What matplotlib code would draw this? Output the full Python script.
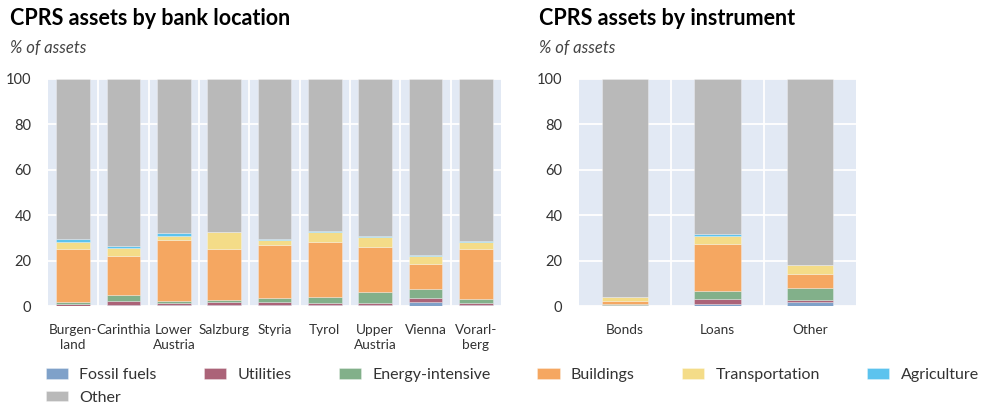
import matplotlib.pyplot as plt
import numpy as np

plt.rcParams['font.family'] = ['Lato', 'DejaVu Sans']

# data (percent of assets)
locations = ['Burgen-\nland', 'Carinthia', 'Lower\nAustria', 'Salzburg', 'Styria',
             'Tyrol', 'Upper\nAustria', 'Vienna', 'Vorarl-\nberg']
loc_fossil = [0.2, 0.3, 0.3, 0.6, 0.3, 0.3, 0.3, 1.6, 0.3]
loc_utilities = [0.7, 1.8, 1.0, 1.0, 1.5, 1.0, 1.0, 1.8, 0.9]
loc_energy = [1.0, 2.7, 0.9, 1.0, 1.6, 2.7, 4.9, 4.1, 1.7]
loc_buildings = [23.1, 17.4, 26.7, 22.7, 23.3, 24.2, 19.6, 11.0, 22.4]
loc_transport = [3.2, 3.2, 1.9, 7.2, 2.2, 4.3, 4.4, 3.5, 2.9]
loc_agri = [1.3, 1.0, 1.2, 0.1, 0.5, 0.5, 0.5, 0.3, 0.3]
loc_other = [70.5, 73.6, 68.0, 67.4, 70.6, 67.0, 69.3, 77.7, 71.5]

instruments = ['Bonds', 'Loans', 'Other']
ins_fossil = [0.2, 0.9, 1.6]
ins_utilities = [0.4, 2.0, 0.9]
ins_energy = [0.4, 3.6, 5.3]
ins_buildings = [1.2, 20.7, 6.2]
ins_transport = [1.6, 3.8, 3.9]
ins_agri = [0.0, 0.6, 0.0]
ins_other = [96.2, 68.4, 82.1]

sectors = ['Fossil fuels', 'Utilities', 'Energy-intensive', 'Buildings',
           'Transportation', 'Agriculture', 'Other']
colors = ['#7fa1c9', '#ab6378', '#82b08a', '#f5a761', '#f4dc88', '#5cc3ee', '#b9b9b9']

fig = plt.figure(figsize=(9.94, 4.08), dpi=100)
ax1 = fig.add_axes([0.0483, 0.25, 0.4557, 0.5564])
ax2 = fig.add_axes([0.5825, 0.25, 0.2787, 0.5564])


def stacked(ax, cats, series, width):
    x = np.arange(len(cats))
    bottom = np.zeros(len(cats))
    handles = []
    for vals, c, name in zip(series, colors, sectors):
        h = ax.bar(x, vals, width, bottom=bottom, color=c, label=name,
                   edgecolor=(1, 1, 1, 0.35), linewidth=0.6, zorder=3)
        bottom += np.array(vals)
        handles.append(h)
    ax.set_facecolor('#e2e9f4')
    ax.set_xlim(-0.5, len(cats) - 0.5)
    ax.set_ylim(0, 100)
    ax.set_yticks([0, 20, 40, 60, 80, 100])
    ax.set_xticks(x)
    ax.set_xticklabels(cats, linespacing=1.3)
    ax.set_xticks(np.arange(len(cats) - 1) + 0.5, minor=True)
    ax.grid(axis='y', which='major', color='white', linewidth=1.3, zorder=1)
    ax.grid(axis='x', which='minor', color='white', linewidth=1.3, zorder=1)
    ax.tick_params(axis='both', which='both', length=0, labelcolor='#333333')
    ax.tick_params(axis='y', pad=12, labelsize=10.5)
    ax.tick_params(axis='x', pad=13, labelsize=9.8)
    for s in ax.spines.values():
        s.set_visible(False)
    return handles


handles = stacked(ax1, locations,
                  [loc_fossil, loc_utilities, loc_energy, loc_buildings,
                   loc_transport, loc_agri, loc_other], 0.67)
stacked(ax2, instruments,
        [ins_fossil, ins_utilities, ins_energy, ins_buildings,
         ins_transport, ins_agri, ins_other], 0.5)

fig.text(0.010, 0.955, 'CPRS assets by bank location', fontsize=15.5,
         fontweight='bold', va='center')
fig.text(0.010, 0.882, '% of assets', fontsize=12, style='italic',
         color='#444444', va='center')
fig.text(0.542, 0.955, 'CPRS assets by instrument', fontsize=15.5,
         fontweight='bold', va='center')
fig.text(0.542, 0.882, '% of assets', fontsize=12, style='italic',
         color='#444444', va='center')

# order so that "Other" lands on the second row of the first column
order = [0, 6, 1, 2, 3, 4, 5]
fig.legend([handles[i] for i in order], [sectors[i] for i in order],
           ncol=6, loc='upper left', bbox_to_anchor=(0.046, 0.098),
           frameon=False, fontsize=11.5, handlelength=1.4, handleheight=0.62,
           handletextpad=0.7, columnspacing=2.95, labelspacing=0.55,
           borderaxespad=0, borderpad=0, labelcolor='#333333')

fig.savefig('out.png', dpi=100)
